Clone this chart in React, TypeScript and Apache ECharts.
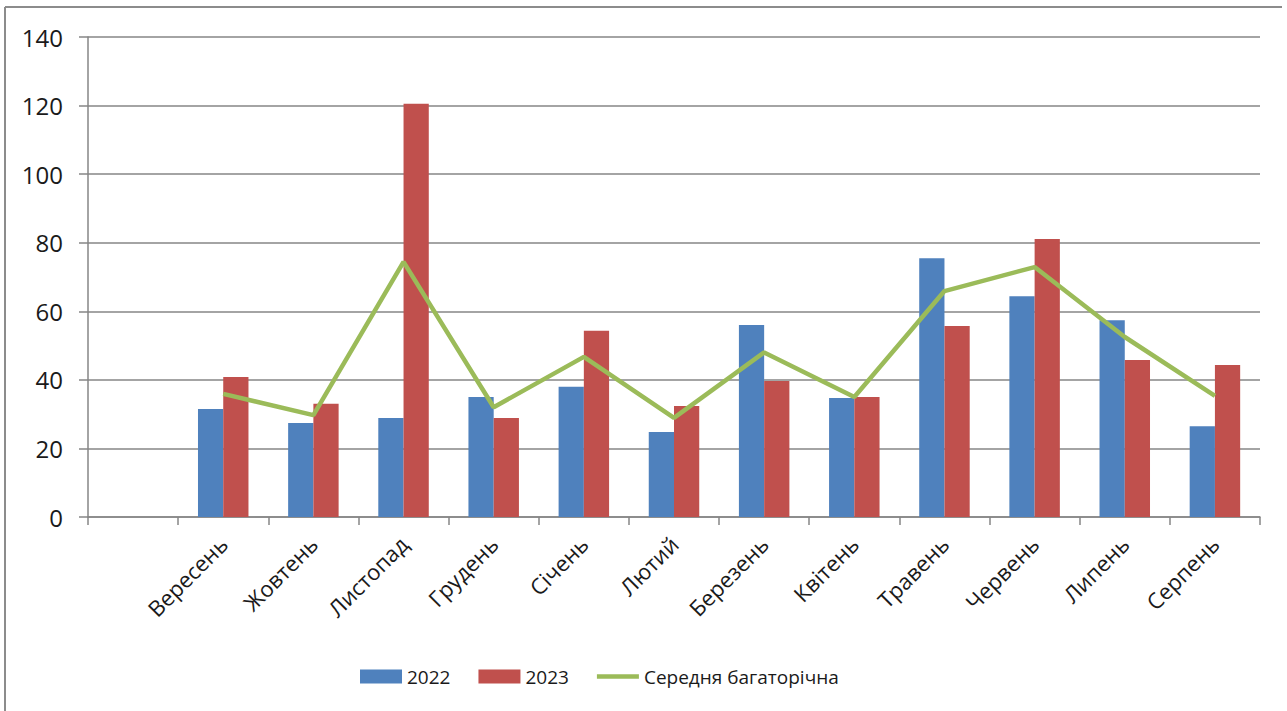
import React, { useEffect, useRef } from "react";
import * as echarts from "echarts";

const categories = ["", "Вересень", "Жовтень", "Листопад", "Грудень", "Січень", "Лютий", "Березень", "Квітень", "Травень", "Червень", "Липень", "Серпень"];
const values2022 = ["-", 31.5, 27.4, 28.9, 35, 38, 24.8, 56, 34.7, 75.5, 64.4, 57.4, 26.5];
const values2023 = ["-", 40.8, 33, 120.5, 28.9, 54.3, 32.4, 39.7, 35, 55.7, 81.1, 45.8, 44.3];
const averageValues = ["-", 35.9, 29.7, 74.4, 32, 46.7, 28.9, 48, 35, 65.9, 72.9, 52.5, 35.3];
const seriesNames = ["2022", "2023", "Середня багаторічна"];

export default function App() {
  const ref = useRef<HTMLDivElement>(null);
  useEffect(() => {
    if (!ref.current) return;
    const chart = echarts.init(ref.current, null, { renderer: "svg" });
    const font = "'Open Sans', 'Noto Sans', sans-serif";
    chart.setOption({
      animation: false,
      backgroundColor: "#ffffff",
      textStyle: { fontFamily: font },
      grid: { left: 88, right: 27, top: 37, bottom: 194, containLabel: false },
      graphic: [
        { type: "line", shape: { x1: 5, y1: 7, x2: 1282, y2: 7 }, style: { stroke: "#8c8c8c", lineWidth: 2 } },
        { type: "line", shape: { x1: 5, y1: 7, x2: 5, y2: 711 }, style: { stroke: "#8c8c8c", lineWidth: 2 } },
      ],
      legend: {
        left: 355,
        top: 662,
        itemWidth: 42,
        itemHeight: 14,
        itemGap: 28,
        symbolKeepAspect: true,
        textStyle: { fontSize: 19, color: "#1a1a1a", fontFamily: font },
        data: [
          { name: seriesNames[0], icon: "rect" },
          { name: seriesNames[1], icon: "rect" },
          { name: seriesNames[2], icon: "path://M0,0L42,0L42,4.5L0,4.5Z" },
        ],
      },
      xAxis: {
        type: "category",
        data: categories,
        boundaryGap: true,
        axisLine: { lineStyle: { color: "#868686", width: 1.5 } },
        axisTick: { show: true, length: 8, lineStyle: { color: "#868686", width: 1.5 } },
        axisLabel: { rotate: 45, fontSize: 22, color: "#1a1a1a", margin: 23, interval: 0, fontFamily: font },
      },
      yAxis: {
        type: "value",
        min: 0,
        max: 140,
        interval: 20,
        axisLine: { show: true, lineStyle: { color: "#868686", width: 1.5 } },
        axisTick: { show: true, length: 9, lineStyle: { color: "#868686", width: 1.5 } },
        splitLine: { lineStyle: { color: "#868686", width: 1.5 } },
        axisLabel: { fontSize: 24, color: "#1a1a1a", margin: 25, fontFamily: font },
      },
      series: [
        {
          name: seriesNames[0],
          type: "bar",
          data: values2022,
          itemStyle: { color: "#4F81BD" },
          barGap: "0%",
          barCategoryGap: "44%",
        },
        {
          name: seriesNames[1],
          type: "bar",
          data: values2023,
          itemStyle: { color: "#C0504D" },
          barGap: "0%",
          barCategoryGap: "44%",
        },
        {
          name: seriesNames[2],
          type: "line",
          data: averageValues,
          showSymbol: false,
          symbol: "none",
          lineStyle: { color: "#9BBB59", width: 4.5 },
          itemStyle: { color: "#9BBB59" },
        },
      ],
    });
    return () => chart.dispose();
  }, []);
  return (
    <div
      ref={ref}
      style={{ position: "fixed", left: 0, top: 0, width: 1287, height: 711, background: "#fff" }}
    />
  );
}
